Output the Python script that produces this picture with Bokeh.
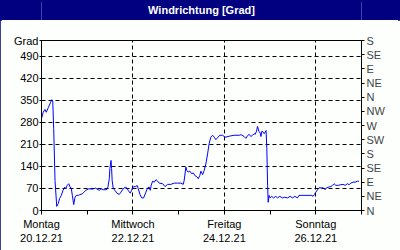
from bokeh.plotting import figure
from bokeh.layouts import column
from bokeh.models import (Range1d, LinearAxis, FixedTicker)
from bokeh.core.properties import value
from bokeh.embed import file_html
from bokeh.resources import INLINE

title_text = "Windrichtung [Grad]"
y_label = "Grad"
# hours since Monday 20.12.21 00:00
hours = [0, 0.9, 1.8, 2.5, 3.6, 4.8, 5.4, 5.9, 6.4, 7.1, 8.0, 8.8, 9.5, 10.4, 11.3, 12.2, 12.7,
         13.5, 14.3, 15.0, 15.6, 16.2, 16.9, 17.6, 18.3, 19.3, 20.0, 21.4, 22.3, 23.2, 24.9,
         26.7, 28.4, 30.3, 31.2, 32.4, 33.8, 34.7, 35.6, 35.9, 36.5, 36.8, 37.1, 37.7, 38.6,
         39.6, 40.8, 41.7, 42.9, 44.0, 44.9, 45.5, 46.6, 47.3, 47.8, 49.2, 50.3, 50.8, 51.7,
         52.6, 53.6, 54.8, 55.7, 56.6, 57.1, 57.6, 58.3, 59.2, 60.1, 61.0, 61.8, 63.6, 64.9,
         66.2, 67.9, 69.7, 71.5, 73.2, 74.4, 74.9, 75.8, 76.3, 77.0, 77.9, 78.8, 79.8, 80.5,
         81.4, 82.3, 83.1, 83.7, 84.6, 85.4, 86.3, 87.2, 88.0, 88.9, 89.8, 90.7, 91.5, 92.4,
         93.6, 95.1, 95.9, 96.8, 98.5, 101.1, 103.8, 104.7, 106.4, 107.3, 108.2, 109.0, 109.9,
         110.8, 111.6, 112.2, 112.9, 113.4, 114.1, 114.8, 115.2, 115.7, 116.4, 116.9, 117.4,
         117.9, 118.3, 118.7, 119.0, 119.5, 120.0, 120.9, 121.8, 123.0, 123.9, 125.1, 126.5,
         127.7, 129.2, 130.5, 131.8, 133.0, 134.4, 135.2, 137.0, 138.8, 140.5, 141.9, 142.6,
         143.3, 144.0, 144.9, 145.7, 147.2, 148.0, 148.9, 149.6, 150.5, 151.9, 152.8, 153.6,
         154.5, 155.9, 157.1, 158.3, 159.4, 160.6, 161.5, 162.4, 163.6, 164.6, 165.9, 166.7]
degrees = [292, 312, 321, 312, 327, 344, 352, 348, 261, 95, 13, 22, 38, 48, 64, 74, 69,
           80, 85, 74, 72, 48, 19, 42, 48, 48, 50, 53, 58, 64, 69,
           68, 71, 64, 69, 66, 66, 69, 101, 133, 159, 133, 95, 69, 64,
           55, 51, 58, 69, 74, 71, 64, 55, 64, 74, 76, 79, 69, 51,
           40, 40, 58, 72, 74, 64, 80, 93, 90, 98, 93, 87, 85, 76,
           83, 83, 87, 87, 87, 83, 95, 138, 127, 122, 125, 117, 119, 111,
           108, 101, 111, 125, 114, 127, 148, 180, 212, 233, 239, 233, 225, 231,
           239, 239, 235, 233, 236, 239, 239, 241, 235, 229, 238, 242, 235,
           239, 244, 242, 252, 267, 252, 246, 235, 252, 249, 244, 249,
           254, 196, 80, 26, 48, 40, 45, 40, 45, 40, 45, 40,
           42, 40, 45, 40, 45, 40, 48, 48, 48, 48, 48, 45,
           51, 58, 66, 72, 72, 72, 66, 72, 74, 76, 80, 85,
           80, 80, 82, 83, 80, 85, 82, 87, 90, 90, 93, 93]
x_ticks = [0, 24, 48, 72, 96, 120, 144, 168]
x_labels = {0: "Montag\n20.12.21", 48: "Mittwoch\n22.12.21", 96: "Freitag\n24.12.21",
            144: "Sonntag\n26.12.21"}
left_ticks = [0, 70, 140, 210, 280, 350, 420, 490, 540]
left_labels = ["0", "70", "140", "210", "280", "350", "420", "490", y_label]
right_ticks = [0, 45, 90, 135, 180, 225, 270, 315, 360, 405, 450, 495, 540]
right_labels = ["N", "NE", "E", "SE", "S", "SW", "W", "NW", "N", "NE", "E", "SE", "S"]

FONT = "Liberation Sans"
NAVY = "#000080"

# title band
t = figure(width=400, height=20, output_backend="svg", toolbar_location=None,
           x_range=Range1d(0, 1), y_range=Range1d(0, 1),
           min_border=0, x_axis_type=None, y_axis_type=None)
t.background_fill_color = NAVY
t.border_fill_color = NAVY
t.outline_line_color = None
t.grid.visible = False
t.text(x=[0.5], y=[0.55], text=[title_text], text_align="center", text_baseline="middle",
       text_color="white", text_font=value(FONT), text_font_size="11px",
       text_font_style="bold")

p = figure(width=400, height=230, output_backend="svg", toolbar_location=None,
           x_range=Range1d(0, 168), y_range=Range1d(0, 540),
           min_border_left=41, min_border_right=39, min_border_top=20, min_border_bottom=40)
p.background_fill_color = "#FCFFFC"
p.border_fill_color = "#FCFFFC"
p.outline_line_color = "black"
p.outline_line_width = 1

p.line(hours, degrees, line_color="#0000FF", line_width=1)

# axes
xa = p.xaxis[0]
xa.ticker = FixedTicker(ticks=x_ticks)
xa.major_label_overrides = {tk: x_labels.get(tk, "") for tk in x_ticks}
ya = p.yaxis[0]
ya.ticker = FixedTicker(ticks=left_ticks)
ya.major_label_overrides = {tk: lb for tk, lb in zip(left_ticks, left_labels)}
for ax in (xa, ya):
    ax.axis_line_color = "black"
    ax.major_tick_line_color = "black"
    ax.major_tick_in = 0
    ax.minor_tick_line_color = None
    ax.major_label_text_font = FONT
    ax.major_label_text_font_size = "11px"
    ax.major_label_text_color = "black"
xa.major_tick_out = 4
ya.major_tick_out = 2
xa.major_label_standoff = 3
ya.major_label_standoff = 1

ra = LinearAxis(ticker=FixedTicker(ticks=right_ticks),
                major_label_overrides={tk: lb for tk, lb in zip(right_ticks, right_labels)})
ra.axis_line_color = "black"
ra.major_tick_line_color = "black"
ra.major_tick_in = 0
ra.major_tick_out = 3
ra.minor_tick_line_color = None
ra.major_label_text_font = FONT
ra.major_label_text_font_size = "11px"
ra.major_label_standoff = 2
p.add_layout(ra, "right")

# grids
p.xgrid.ticker = FixedTicker(ticks=[48, 96, 144])
p.ygrid.ticker = FixedTicker(ticks=left_ticks[1:8])
for g in (p.xgrid[0], p.ygrid[0]):
    g.grid_line_color = "black"
    g.grid_line_dash = "4 3"
    g.grid_line_width = 1

layout = column(t, p, spacing=0,
                styles={"outline": "2px solid #000080", "outline-offset": "-2px"})

open("out.html", "w").write(file_html(layout, INLINE))
